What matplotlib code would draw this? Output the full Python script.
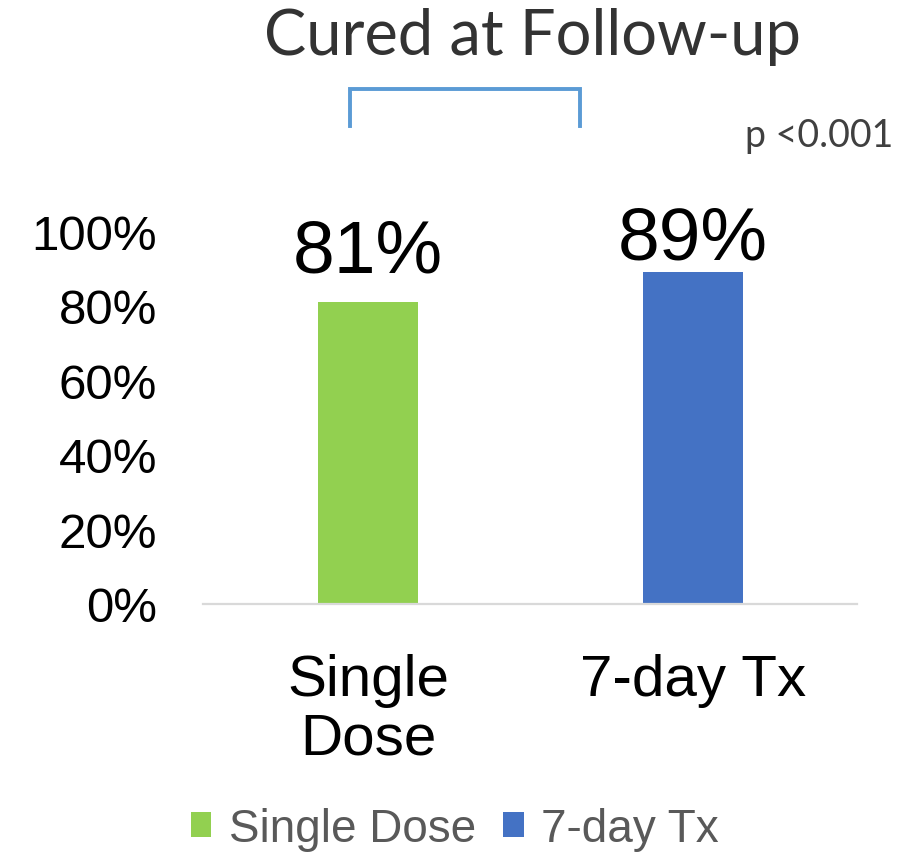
import matplotlib
matplotlib.use("Agg")
import matplotlib.pyplot as plt

# data
categories = ["Single Dose", "7-day Tx"]
tick_labels = ["Single\nDose", "7-day Tx"]
cured = [0.81, 0.89]
value_labels = ["81%", "89%"]
colors = ["#92D050", "#4472C4"]
yticks = [0, 0.2, 0.4, 0.6, 0.8, 1.0]
ytick_labels = ["0%", "20%", "40%", "60%", "80%", "100%"]

plt.rcParams["font.family"] = ["Liberation Sans", "DejaVu Sans"]

W, H = 916, 853
fig = plt.figure(figsize=(W / 100, H / 100), dpi=100)

# axes box in pixel terms: x 203..857, y(0%)=605, y(100%)=232
ax = fig.add_axes([203 / W, (H - 605) / H, 654 / W, 373 / H])

x = list(range(len(categories)))
bars = ax.bar(x, cured, width=0.31, color=colors, label=categories, zorder=2)

ax.set_xlim(-0.508, 1.505)
ax.set_ylim(0, 1.0)

ax.set_yticks(yticks)
ax.set_yticklabels(ytick_labels, fontsize=35.5, color="black")
ax.tick_params(axis="y", length=0, pad=33)

ax.set_xticks(x)
ax.set_xticklabels(tick_labels, fontsize=42, color="black", linespacing=1.12)
ax.tick_params(axis="x", length=0, pad=35)

for s in ["top", "right", "left"]:
    ax.spines[s].set_visible(False)
ax.spines["bottom"].set_color("#D9D9D9")
ax.spines["bottom"].set_linewidth(1.6)

# value labels above bars
offsets = [22, 10]
for xi, v, lab, off in zip(x, cured, value_labels, offsets):
    ax.annotate(lab, (xi, v), xytext=(0, off), textcoords="offset points",
                ha="center", va="baseline", fontsize=54, color="black",
                annotation_clip=False)

# title and significance bracket
fig.text(532 / W, 1 - 37 / H, "Cured at Follow-up", ha="center", va="center",
         fontsize=45.5, color="#333333", family=["Lato", "DejaVu Sans"])
bx = [350 / W, 350 / W, 580 / W, 580 / W]
by = [1 - 127 / H, 1 - 90 / H, 1 - 90 / H, 1 - 127 / H]
fig.add_artist(plt.Line2D(bx, by, color="#5B9BD5", linewidth=2.8,
                          solid_joinstyle="miter"))
fig.text(893 / W, 1 - 136 / H, "p <0.001", ha="right", va="center",
         fontsize=27, color="#404040", family=["Lato", "DejaVu Sans"])

# legend
leg = fig.legend(handles=bars, labels=categories, loc="center",
                 bbox_to_anchor=(455 / W, 1 - 830 / H), ncol=2, frameon=False,
                 fontsize=33, handlelength=0.45, handleheight=0.45,
                 handletextpad=0.38, columnspacing=0.6, borderpad=0)
for t in leg.get_texts():
    t.set_color("#595959")

fig.savefig("out.png", dpi=100)
